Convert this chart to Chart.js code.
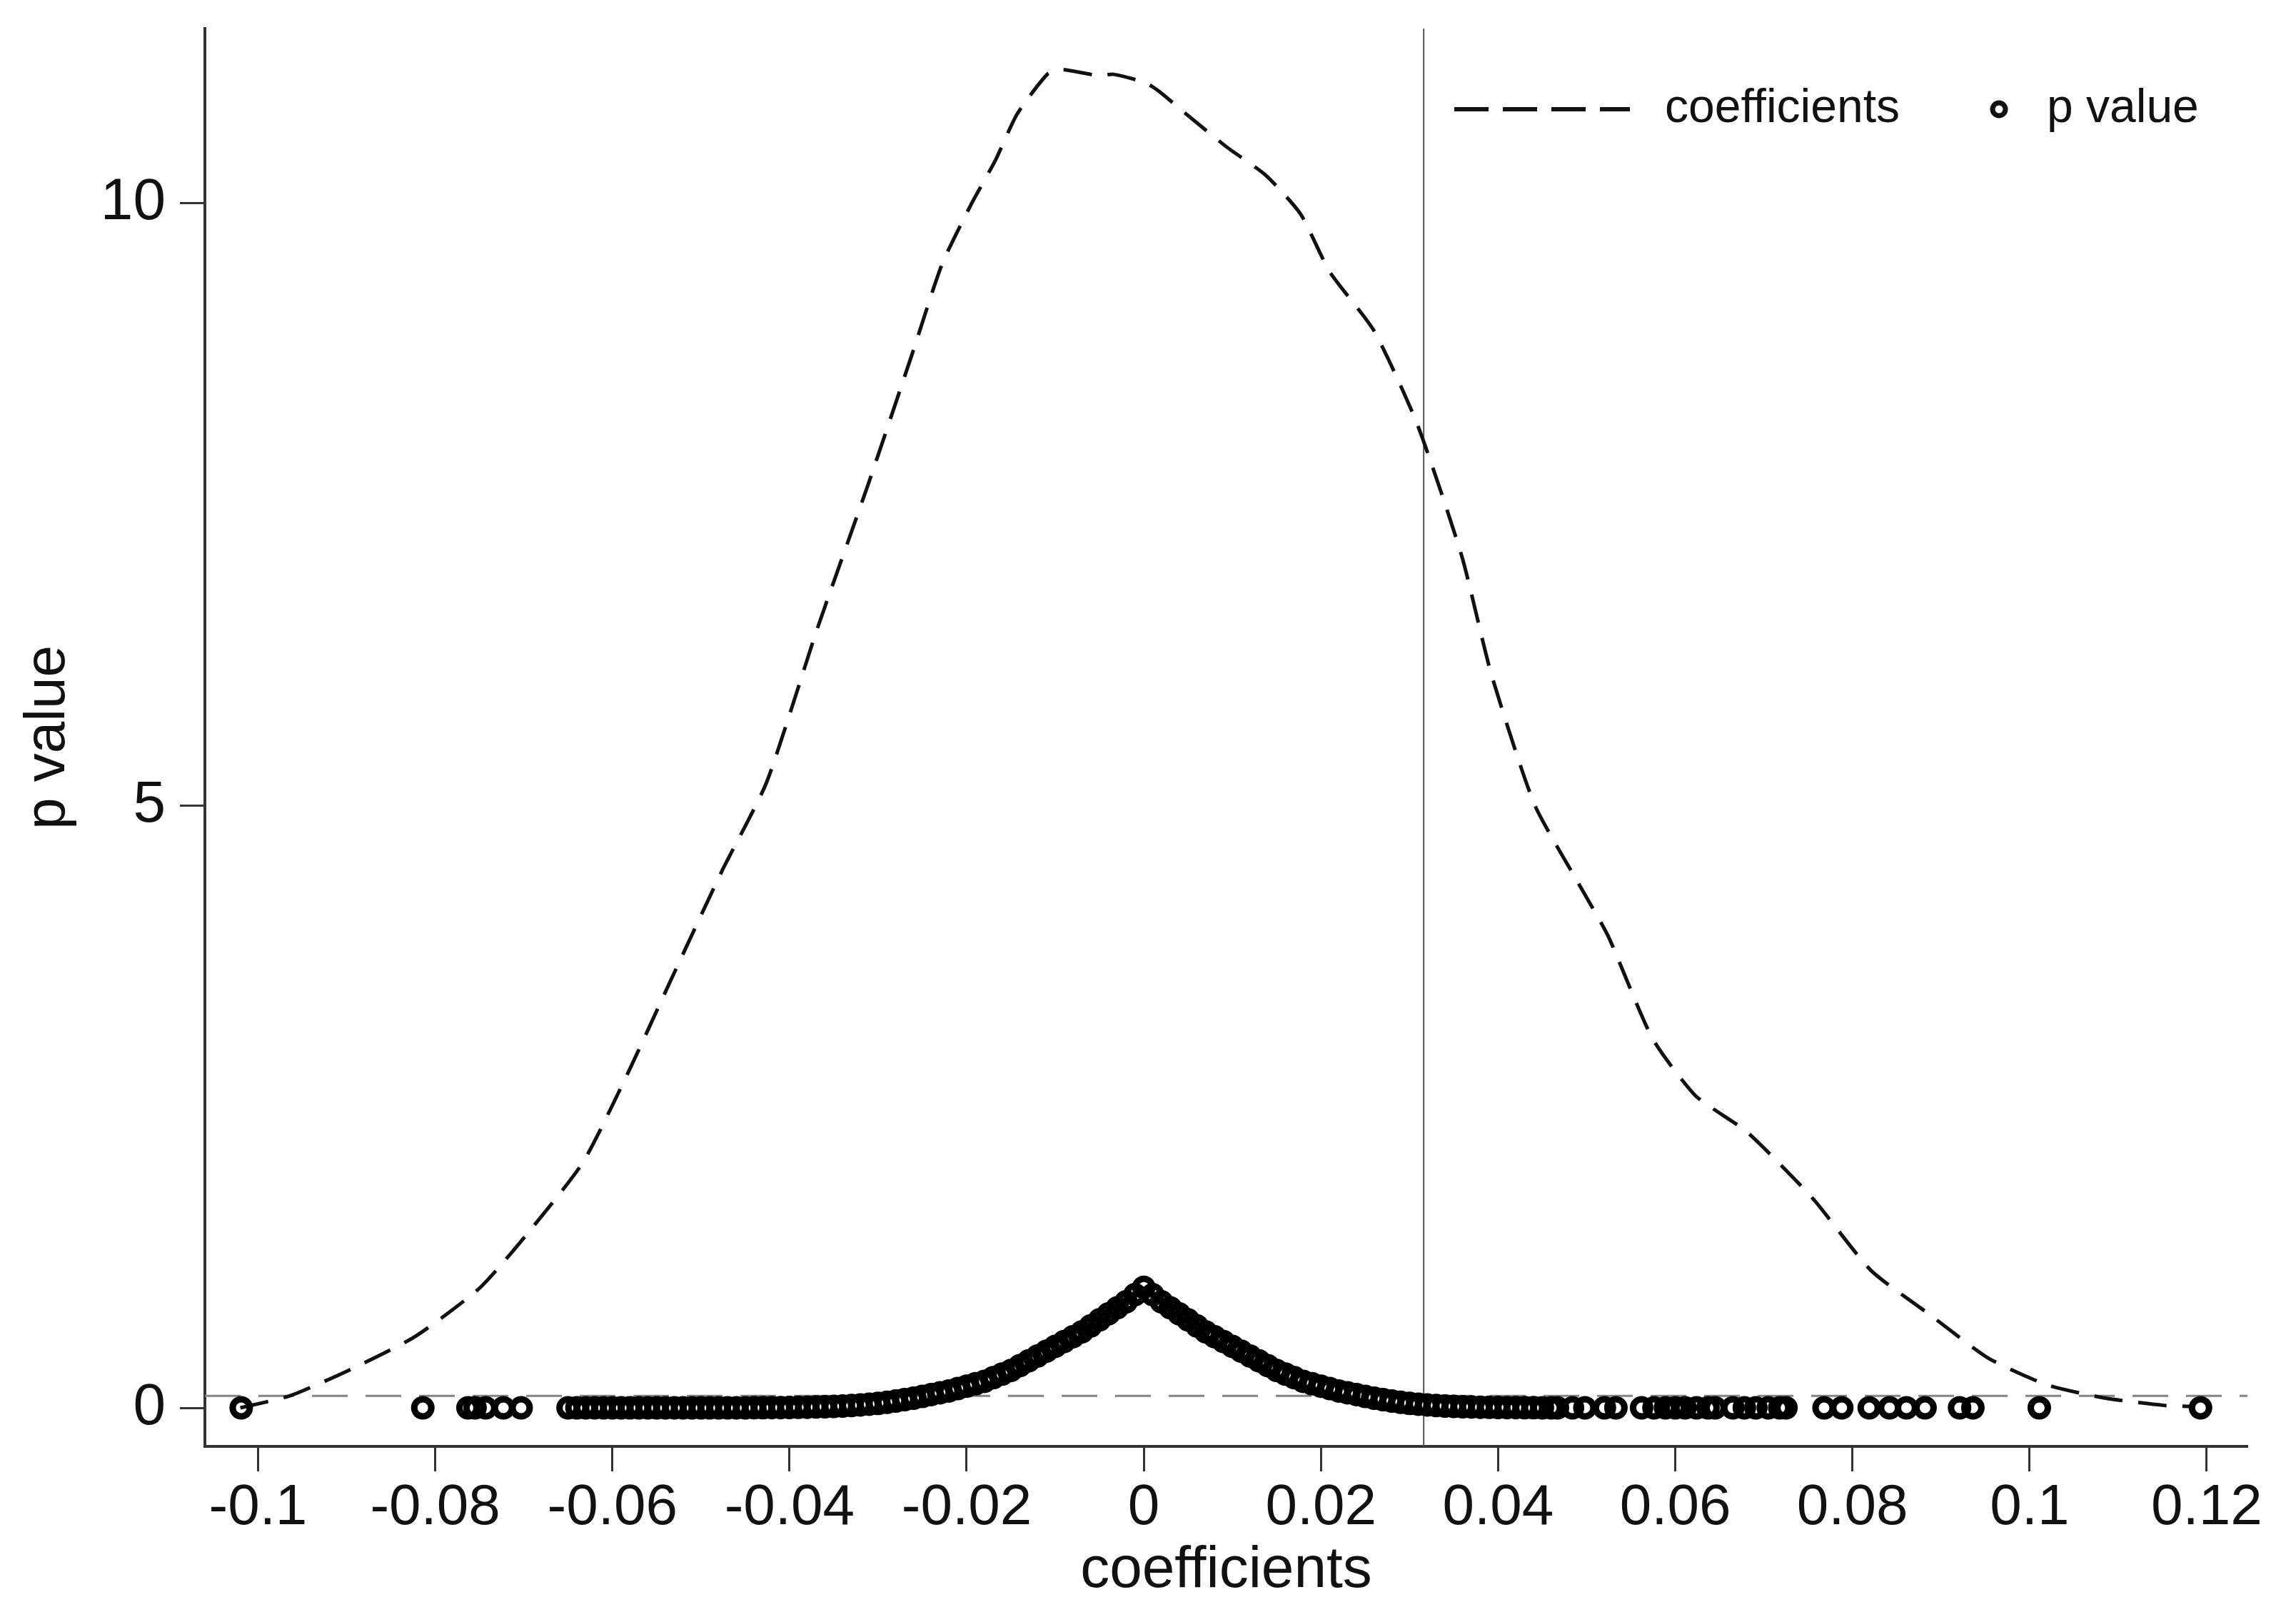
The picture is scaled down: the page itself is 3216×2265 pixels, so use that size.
<!DOCTYPE html>
<html>
<head>
<meta charset="utf-8">
<script src="https://cdn.jsdelivr.net/npm/chart.js@4.4.1/dist/chart.umd.min.js"></script>
<style>
  html, body { margin: 0; padding: 0; background: #fff; }
  canvas { display: block; }
</style>
</head>
<body>
<canvas id="chart" width="3216" height="2265"></canvas>
<script>
/* axis ticks */
const xTicks = [-0.1, -0.08, -0.06, -0.04, -0.02, 0, 0.02, 0.04, 0.06, 0.08, 0.1, 0.12];
const xTickLabels = ['-0.1', '-0.08', '-0.06', '-0.04', '-0.02', '0', '0.02', '0.04', '0.06', '0.08', '0.1', '0.12'];
const yTicks = [0, 5, 10];
const yTickLabels = ['0', '5', '10'];

/* density of coefficients (dashed curve) */
const densX = [-0.1020, -0.0964, -0.0898, -0.0823, -0.0749, -0.0691, -0.0633, -0.0583, -0.0534, -0.0476,
  -0.0426, -0.0369, -0.0311, -0.0261, -0.0228, -0.0195, -0.0168, -0.0143, -0.0109, -0.0093,
  -0.0052, -0.0034, 0.0002, 0.0017, 0.0048, 0.0093, 0.0138, 0.0177, 0.0210, 0.0260,
  0.0309, 0.0359, 0.0392, 0.0441, 0.0491, 0.0524, 0.0574, 0.0623, 0.0681, 0.0755,
  0.0821, 0.0888, 0.0954, 0.1020, 0.1086, 0.1152, 0.1185];
const densY = [0.00, 0.10, 0.31, 0.59, 1.00, 1.49, 2.04, 2.77, 3.55, 4.46,
  5.19, 6.46, 7.67, 8.76, 9.49, 9.99, 10.35, 10.74, 11.07, 11.11,
  11.06, 11.07, 11.00, 10.93, 10.74, 10.47, 10.23, 9.91, 9.43, 8.94,
  8.16, 7.07, 6.10, 5.01, 4.35, 3.92, 3.07, 2.59, 2.29, 1.74,
  1.14, 0.77, 0.41, 0.19, 0.08, 0.02, 0.01];

/* p values of each coefficient (hollow circles) */
const pX = [-0.1019, -0.0814, -0.0763, -0.0755, -0.0743, -0.0723, -0.0703,
  -0.065, -0.064, -0.063, -0.062, -0.061, -0.060, -0.059, -0.058, -0.057, -0.056,
  -0.055, -0.054, -0.053, -0.052, -0.051, -0.050, -0.049, -0.048, -0.047, -0.046,
  -0.045, -0.044, -0.043, -0.042, -0.041, -0.040, -0.039, -0.038, -0.037, -0.036,
  -0.035, -0.034, -0.033, -0.032, -0.031, -0.030, -0.029, -0.028, -0.027, -0.026,
  -0.025, -0.024, -0.023, -0.022, -0.021, -0.020, -0.019, -0.018, -0.017, -0.016,
  -0.015, -0.014, -0.013, -0.012, -0.011, -0.010, -0.009, -0.008, -0.007, -0.006,
  -0.005, -0.004, -0.003, -0.002, -0.001, 0.000, 0.001, 0.002, 0.003, 0.004,
  0.005, 0.006, 0.007, 0.008, 0.009, 0.010, 0.011, 0.012, 0.013, 0.014,
  0.015, 0.016, 0.017, 0.018, 0.019, 0.020, 0.021, 0.022, 0.023, 0.024,
  0.025, 0.026, 0.027, 0.028, 0.029, 0.030, 0.031, 0.032, 0.033, 0.034,
  0.035, 0.036, 0.037, 0.038, 0.039, 0.040, 0.041, 0.042, 0.043, 0.044,
  0.045, 0.046,
  0.0467, 0.0484, 0.0498, 0.0520, 0.0533, 0.0562, 0.0576, 0.0589, 0.0600, 0.0611,
  0.0624, 0.0637, 0.0645, 0.0665, 0.0678, 0.0691, 0.0705, 0.0718, 0.0725, 0.0768,
  0.0788, 0.0819, 0.0842, 0.0861, 0.0882, 0.0921, 0.0936, 0.1011, 0.1193];
const pY = [0, 0, 0, 0, 0, 0, 0,
  0, 0, 0, 0, 0, 0, 0, 0, 0, 0,
  0, 0, 0, 0, 0, 0, 0, 0, 0, 0,
  0, 0.001, 0.001, 0.002, 0.002, 0.003, 0.004, 0.005, 0.007, 0.009,
  0.012, 0.015, 0.019, 0.024, 0.030, 0.037, 0.046, 0.056, 0.068, 0.080,
  0.095, 0.110, 0.125, 0.140, 0.160, 0.180, 0.200, 0.220, 0.250, 0.280,
  0.310, 0.350, 0.390, 0.430, 0.470, 0.510, 0.550, 0.590, 0.630, 0.680,
  0.730, 0.780, 0.830, 0.880, 0.940, 1.000, 0.940, 0.880, 0.830, 0.780,
  0.730, 0.680, 0.630, 0.590, 0.550, 0.510, 0.470, 0.430, 0.390, 0.350,
  0.310, 0.280, 0.250, 0.220, 0.200, 0.180, 0.160, 0.140, 0.125, 0.110,
  0.095, 0.080, 0.068, 0.056, 0.046, 0.037, 0.030, 0.024, 0.019, 0.015,
  0.012, 0.009, 0.007, 0.005, 0.004, 0.003, 0.002, 0.002, 0.001, 0.001,
  0, 0,
  0, 0, 0, 0, 0, 0, 0, 0, 0, 0,
  0, 0, 0, 0, 0, 0, 0, 0, 0, 0,
  0, 0, 0, 0, 0, 0, 0, 0, 0];

/* reference lines */
const pCutoff = 0.1;
const coefCutoff = 0.0316;

const xMin = -0.106, xMax = 0.1246;
const yMin = -0.32, yMax = 11.45;

const FONT = '"Liberation Sans", Arial, Helvetica, sans-serif';

/* legend drawn stata-style inside the plot, top right */
const stataLegend = {
  id: 'stataLegend',
  afterDraw(chart) {
    const ctx = chart.ctx;
    const a = chart.chartArea;
    const y = a.top + 113;
    ctx.save();
    ctx.strokeStyle = '#111';
    ctx.lineWidth = 6;
    ctx.setLineDash([48, 20]);
    ctx.beginPath();
    ctx.moveTo(a.right - 1111, y);
    ctx.lineTo(a.right - 865, y);
    ctx.stroke();
    ctx.setLineDash([]);
    ctx.beginPath();
    ctx.arc(a.right - 348, y, 9, 0, Math.PI * 2);
    ctx.lineWidth = 7;
    ctx.stroke();
    ctx.fillStyle = '#111';
    ctx.font = '66px ' + FONT;
    ctx.textBaseline = 'middle';
    ctx.textAlign = 'left';
    ctx.fillText('coefficients', a.right - 816, y);
    ctx.fillText('p value', a.right - 281, y);
    ctx.restore();
  }
};

new Chart(document.getElementById('chart'), {
  type: 'scatter',
  data: {
    datasets: [
      {
        label: 'p value',
        data: pX.map((x, i) => ({ x: x, y: pY[i] })),
        pointRadius: 12,
        pointBorderWidth: 9,
        borderColor: '#000',
        backgroundColor: 'rgba(0,0,0,0)',
        order: 1
      },
      {
        label: 'coefficients',
        data: densX.map((x, i) => ({ x: x, y: densY[i] })),
        showLine: true,
        borderColor: '#111',
        borderWidth: 5,
        borderDash: [40, 22],
        pointRadius: 0,
        tension: 0.2,
        order: 2
      },
      {
        label: 'p = 0.1',
        data: [{ x: xMin, y: pCutoff }, { x: xMax, y: pCutoff }],
        showLine: true,
        borderColor: '#858585',
        borderWidth: 3,
        borderDash: [50, 25],
        pointRadius: 0,
        order: 3
      },
      {
        label: 'cutoff',
        data: [{ x: coefCutoff, y: yMin }, { x: coefCutoff, y: yMax }],
        showLine: true,
        borderColor: '#555',
        borderWidth: 2,
        pointRadius: 0,
        order: 4
      }
    ]
  },
  options: {
    responsive: false,
    animation: false,
    devicePixelRatio: 1,
    layout: { padding: { top: 40, right: 68, bottom: 0, left: 0 } },
    plugins: {
      legend: { display: false },
      tooltip: { enabled: false }
    },
    scales: {
      x: {
        type: 'linear',
        position: 'bottom',
        min: xMin,
        max: xMax,
        afterBuildTicks: s => { s.ticks = xTicks.map(v => ({ value: v })); },
        afterFit: s => { s.height = 239; },
        ticks: {
          callback: (v, i) => xTickLabels[i],
          autoSkip: false,
          maxRotation: 0,
          padding: 4,
          color: '#111',
          font: { family: FONT, size: 80 }
        },
        grid: { display: true, drawOnChartArea: false, tickLength: 35, tickWidth: 3, tickColor: '#333' },
        border: { display: true, color: '#333', width: 4 },
        title: {
          display: true,
          text: 'coefficients',
          color: '#111',
          font: { family: FONT, size: 82 },
          padding: { top: 0, bottom: 15 }
        }
      },
      y: {
        type: 'linear',
        min: yMin,
        max: yMax,
        afterBuildTicks: s => { s.ticks = yTicks.map(v => ({ value: v })); },
        afterFit: s => { s.width = 287; s.paddingTop = 0; s.paddingBottom = 0; },
        ticks: {
          callback: (v, i) => yTickLabels[i],
          autoSkip: false,
          padding: 20,
          color: '#111',
          font: { family: FONT, size: 82 }
        },
        grid: { display: true, drawOnChartArea: false, tickLength: 35, tickWidth: 3, tickColor: '#333' },
        border: { display: true, color: '#333', width: 4 },
        title: {
          display: true,
          text: 'p value',
          color: '#111',
          font: { family: FONT, size: 80 },
          padding: { top: 20, bottom: 0 }
        }
      }
    }
  },
  plugins: [stataLegend]
});
</script>
</body>
</html>
